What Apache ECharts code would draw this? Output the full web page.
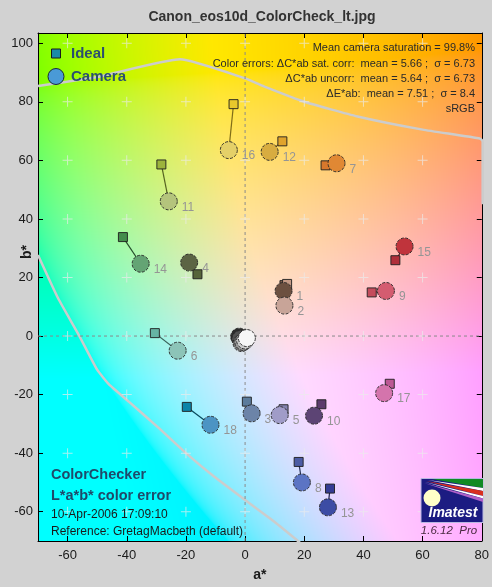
<!DOCTYPE html>
<html><head><meta charset="utf-8">
<script src="https://cdn.jsdelivr.net/npm/echarts@6/dist/echarts.min.js"></script>
<style>html,body{margin:0;padding:0;background:#d2d2d2;}#c{width:492px;height:587px;}</style>
</head><body><div id="c"></div>
<script>
// ---- data ----
const xTicks = [-60, -40, -20, 0, 20, 40, 60, 80];
const yTicks = [-60, -40, -20, 0, 20, 40, 60, 80, 100];
const crossA = [-60, -40, -20, 0, 20, 40, 60];
const crossB = [-60, -40, -20, 0, 20, 40, 60, 80, 100];

const patchIds = [1,2,3,4,5,6,7,8,9,10,11,12,13,14,15,16,17,18,24,23,22,21,20,19];
const idealA = [13.3,14.2,0.6,-16.1,13,-30.5,27.2,18.1,42.8,25.8,-28.3,12.6,28.7,-41.3,50.8,-3.9,48.9,-19.7, -0.3,-0.4,-0.2,-0.5,-0.3,-0.4];
const idealB = [17.4,17.8,-22.4,21.1,-25,1,58.3,-43,14.9,-23.3,58.6,66.5,-52.1,33.8,25.9,79.2,-16.3,-24.2, 0.3,0.5,0.2,0.4,0.1,0.3];
const camA   = [13,13.3,2.2,-18.9,11.7,-22.8,30.9,19.2,47.6,23.3,-25.8,8.3,28,-35.3,53.9,-5.5,47,-11.7, -2,-1.6,-1.2,-0.6,0,0.6];
const camB   = [15.4,10.4,-26.4,25.1,-27,-5,59,-50,15.4,-27.2,46,62.9,-58.5,24.7,30.6,63.5,-19.5,-30.3, -0.2,-1,-2.4,-2,-1.5,-0.7];
const idealColors = ['#8c6450','#c49a86','#5c7c9c','#56643a','#8484b0','#66b4a4','#d8782c','#4c5ca4','#c44c5c','#5c3c6c','#9cb43c','#e0a42c','#343c94','#448c4c','#b0303a','#e8c82c','#bc5894','#0c84a8','#343434','#555555','#7a7a7a','#a0a0a0','#c8c8c8','#f0f0f0'];
const camColors = ['#6c5040','#c8a498','#6c84a8','#5c6444','#a09cc8','#8cc4b8','#e08834','#5c74c4','#d45c70','#5c4474','#b4c47c','#d8ac40','#3c4ca4','#64a474','#c0343c','#e4d068','#d474ac','#4c94c4','#2c2c2c','#505050','#787878','#a0a0a0','#cccccc','#f6f6f6'];

const gamutTopA = [-70,-50,-22,0,7,20,38,60,79.5,80.3,80.3];
const gamutTopB = [85.4,88.5,94.5,88,85,80,75,70.5,67.4,66.5,45];
const gamutBotA = [-70,-63.2,-56,-50,-46,-39.3,-29.4,-19.3,-10.5,0,10,18.5];
const gamutBotB = [27.7,12.9,0,-11.5,-16.5,-22.4,-31.2,-40.6,-48,-56,-63.5,-70.5];

const titleText = 'Canon_eos10d_ColorCheck_lt.jpg';
const statLines = ['Mean camera saturation = 99.8%',
  'Color errors: \u0394C*ab sat. corr:  mean = 5.66 ;  \u03c3 = 6.73',
  '\u0394C*ab uncorr:  mean = 5.64 ;  \u03c3 = 6.73',
  '\u0394E*ab:  mean = 7.51 ;  \u03c3 = 8.4',
  'sRGB'];

// ---- setup ----
const X_MIN = -70, X_MAX = 80, Y_MIN = -70, Y_MAX = 103.5;
const FONT = '"Liberation Sans", Arial, sans-serif';
const chart = echarts.init(document.getElementById('c'));

function zipPts(a, b) { return a.map((v, i) => [v, b[i]]); }
function darken(hex, f) {
  const n = parseInt(hex.slice(1), 16);
  const r = Math.round(((n >> 16) & 255) * f), g = Math.round(((n >> 8) & 255) * f), b = Math.round((n & 255) * f);
  return 'rgb(' + r + ',' + g + ',' + b + ')';
}
const crossData = [];
crossA.forEach(a => crossB.forEach(b => crossData.push([a, b])));

const pts = patchIds.map((id, i) => ({id, ia: idealA[i], ib: idealB[i], ca: camA[i], cb: camB[i], ic: idealColors[i], cc: camColors[i]}));

function axisCommon(extra) {
  return Object.assign({
    type: 'value', splitLine: {show: false},
    axisLine: {show: true, onZero: false, lineStyle: {color: '#000', width: 1}},
  }, extra);
}

const option = {
  backgroundColor: '#d2d2d2',
  animation: false,
  grid: {left: 38, top: 33, width: 450, height: 512.5, show: false},
  xAxis: [
    axisCommon({min: X_MIN, max: X_MAX, position: 'bottom',
      axisTick: {show: true, inside: true, length: 5, customValues: xTicks, lineStyle: {color: '#000'}},
      axisLabel: {customValues: xTicks, color: '#1a1a1a', fontSize: 13, fontFamily: FONT, margin: 8},
      name: 'a*', nameLocation: 'middle', nameGap: 27,
      nameTextStyle: {fontWeight: 'bold', fontSize: 14, color: '#1a1a1a', fontFamily: FONT}}),
    axisCommon({min: X_MIN, max: X_MAX, position: 'top',
      axisTick: {show: true, inside: true, length: 5, customValues: xTicks, lineStyle: {color: '#000'}},
      axisLabel: {show: false}})
  ],
  yAxis: [
    axisCommon({min: Y_MIN, max: Y_MAX, position: 'left',
      axisTick: {show: true, inside: true, length: 5, customValues: yTicks, lineStyle: {color: '#000'}},
      axisLabel: {customValues: yTicks, color: '#1a1a1a', fontSize: 13, fontFamily: FONT, margin: 5}}),
    axisCommon({min: Y_MIN, max: Y_MAX, position: 'right',
      axisTick: {show: true, inside: true, length: 5, customValues: yTicks, lineStyle: {color: '#000'}},
      axisLabel: {show: false}})
  ],
  series: [
    {type: 'line', data: zipPts(gamutTopA, gamutTopB), showSymbol: false, silent: true, z: 1, smooth: 0.15,
     lineStyle: {color: '#cccccc', width: 2.5}},
    {type: 'line', data: zipPts(gamutBotA, gamutBotB), showSymbol: false, silent: true, z: 1, smooth: 0.15,
     lineStyle: {color: '#cccccc', width: 2.5}},
    {type: 'line', data: [[0, Y_MIN], [0, Y_MAX]], showSymbol: false, silent: true, z: 1,
     lineStyle: {color: '#8a8a8a', width: 1, type: [3, 3]}},
    {type: 'line', data: [[X_MIN, 0], [X_MAX, 0]], showSymbol: false, silent: true, z: 1,
     lineStyle: {color: '#8a8a8a', width: 1, type: [3, 3]}},
    {type: 'scatter', data: crossData, silent: true, z: 1,
     symbol: 'path://M4.5,0h1v4.5h4.5v1h-4.5v4.5h-1v-4.5h-4.5v-1h4.5z', symbolSize: 10,
     itemStyle: {color: 'rgba(235,235,235,0.7)', opacity: 1}},
    {type: 'custom', z: 3, silent: true,
     data: pts.map(p => [p.ia, p.ib, p.ca, p.cb]),
     renderItem: function (params, api) {
       const p1 = api.coord([api.value(0), api.value(1)]);
       const p2 = api.coord([api.value(2), api.value(3)]);
       const col = darken(pts[params.dataIndex].ic, 0.55);
       return {type: 'line', shape: {x1: p1[0], y1: p1[1], x2: p2[0], y2: p2[1]},
               style: {stroke: col, lineWidth: 1.2}};
     }},
    {type: 'scatter', z: 4, symbol: 'rect', symbolSize: 9,
     data: pts.map(p => ({value: [p.ia, p.ib], itemStyle: {color: p.ic, opacity: 1, borderColor: 'rgba(30,30,30,0.9)', borderWidth: 1}}))},
    {type: 'scatter', z: 5, symbol: 'circle', symbolSize: 17,
     data: pts.map(p => ({value: [p.ca, p.cb], id: p.id,
       itemStyle: {color: p.cc, opacity: 1, borderColor: 'rgba(35,35,35,0.9)', borderWidth: 1, borderType: [3, 1.5]}})),
     label: {show: true, position: 'right', distance: 4, offset: [0, 6], color: '#959595', fontSize: 12, fontFamily: FONT,
       formatter: function (p) { return p.data.id <= 18 ? String(p.data.id) : ''; }}}
  ]
};
chart.setOption(option);

// ---- background (Lab a*b* plane) ----
function labToRgb(L, a, b) {
  const fy = (L + 16) / 116, fx = fy + a / 500, fz = fy - b / 200;
  const d = 6 / 29;
  const fi = t => t > d ? t * t * t : 3 * d * d * (t - 4 / 29);
  const X = 0.95047 * fi(fx), Y = fi(fy), Z = 1.08883 * fi(fz);
  let r = 3.2406 * X - 1.5372 * Y - 0.4986 * Z;
  let g = -0.9689 * X + 1.8758 * Y + 0.0415 * Z;
  let bl = 0.0557 * X - 0.2040 * Y + 1.0570 * Z;
  const gam = c => { c = c <= 0.0031308 ? 12.92 * c : 1.055 * Math.pow(c, 1 / 2.4) - 0.055; return Math.max(0, Math.min(255, Math.round(c * 255))); };
  return [gam(r), gam(g), gam(bl)];
}
const pTL = chart.convertToPixel({xAxisIndex: 0, yAxisIndex: 0}, [X_MIN, Y_MAX]);
const pBR = chart.convertToPixel({xAxisIndex: 0, yAxisIndex: 0}, [X_MAX, Y_MIN]);
const W = Math.round(pBR[0] - pTL[0]), H = Math.round(pBR[1] - pTL[1]);
const cv = document.createElement('canvas');
cv.width = W; cv.height = H;
const ctx = cv.getContext('2d');
const img = ctx.createImageData(W, H);
const LVAL = 91;
for (let j = 0; j < H; j++) {
  const bb = Y_MAX - (j + 0.5) / H * (Y_MAX - Y_MIN);
  for (let i = 0; i < W; i++) {
    const aa = X_MIN + (i + 0.5) / W * (X_MAX - X_MIN);
    const c = labToRgb(LVAL, aa, bb);
    const k = (j * W + i) * 4;
    img.data[k] = c[0]; img.data[k + 1] = c[1]; img.data[k + 2] = c[2]; img.data[k + 3] = 255;
  }
}
ctx.putImageData(img, 0, 0);

function txt(id, x, y, text, font, fill, align, extra) {
  return Object.assign({type: 'text', id, x, y, z: 100, silent: true,
    style: {text, font, fill, textAlign: align || 'left', align: align || 'left', textVerticalAlign: 'middle', verticalAlign: 'middle'}}, extra || {});
}

const graphics = [
  {type: 'image', id: 'bg', x: pTL[0], y: pTL[1], z: -1, silent: true, style: {image: cv, width: W, height: H}},
  txt('title', 262, 17, titleText, 'bold 14px ' + FONT, '#333333', 'center'),
  txt('bstar', 27, 252, 'b*', 'bold 14px ' + FONT, '#1a1a1a', 'center', {rotation: Math.PI / 2}),
  // legend
  {type: 'rect', id: 'lgSq', z: 100, silent: true, shape: {x: 51.5, y: 49, width: 9, height: 9}, style: {fill: '#1b8aa8', stroke: '#1a1a1a', lineWidth: 1}},
  txt('lgIdeal', 71, 54, 'Ideal', 'bold 15px ' + FONT, '#2b4f6f'),
  {type: 'circle', id: 'lgCi', z: 100, silent: true, shape: {cx: 56, cy: 76.5, r: 8}, style: {fill: '#4a9ad6', stroke: '#1a2a3a', lineWidth: 1}},
  txt('lgCam', 71, 77, 'Camera', 'bold 15px ' + FONT, '#2b4f6f'),
  // bottom-left notes
  txt('cc1', 51, 475, 'ColorChecker', 'bold 14.5px ' + FONT, '#1f4a6a'),
  txt('cc2', 51, 496, 'L*a*b* color error', 'bold 14.5px ' + FONT, '#1f4a6a'),
  txt('cc3', 51, 515, '10-Apr-2006 17:09:10', '12px ' + FONT, '#1a1a1a'),
  txt('cc4', 51, 532, 'Reference: GretagMacbeth (default)', '12px ' + FONT, '#1a1a1a'),
  // logo
  {type: 'rect', id: 'lgBox', z: 100, silent: true, shape: {x: 421, y: 478.5, width: 62, height: 44}, style: {fill: '#1c1c82', stroke: '#b8b8e0', lineWidth: 1}},
  {type: 'polygon', id: 'st1', z: 101, silent: true, shape: {points: [[432, 479], [483, 479], [483, 488]]}, style: {fill: '#108a24'}},
  {type: 'polygon', id: 'st2', z: 101, silent: true, shape: {points: [[428, 480], [483, 488], [483, 491]]}, style: {fill: '#ffffff'}},
  {type: 'polygon', id: 'st3', z: 101, silent: true, shape: {points: [[426, 481], [483, 491], [483, 496]]}, style: {fill: '#d83020'}},
  {type: 'polygon', id: 'st4', z: 101, silent: true, shape: {points: [[425, 482], [483, 496], [483, 498.5]]}, style: {fill: '#ffffff'}},
  {type: 'polygon', id: 'st5', z: 101, silent: true, shape: {points: [[424, 483], [483, 498.5], [483, 502]]}, style: {fill: '#b060c8'}},
  {type: 'circle', id: 'lgSun', z: 102, silent: true, shape: {cx: 432, cy: 498, r: 8.5}, style: {fill: '#ffffc8'}},
  txt('imatest', 453, 513, 'Imatest', 'italic bold 14px ' + FONT, '#ffffff', 'center'),
  txt('ver', 449, 531, '1.6.12  Pro', 'italic 11.5px ' + FONT, '#4a2a40', 'center')
];
statLines.forEach((s, i) => graphics.push(txt('stl' + i, 475, [48, 63.5, 79, 94, 109][i], s, '11px ' + FONT, '#2a2a2a', 'right')));
chart.setOption({graphic: graphics});
</script></body></html>
